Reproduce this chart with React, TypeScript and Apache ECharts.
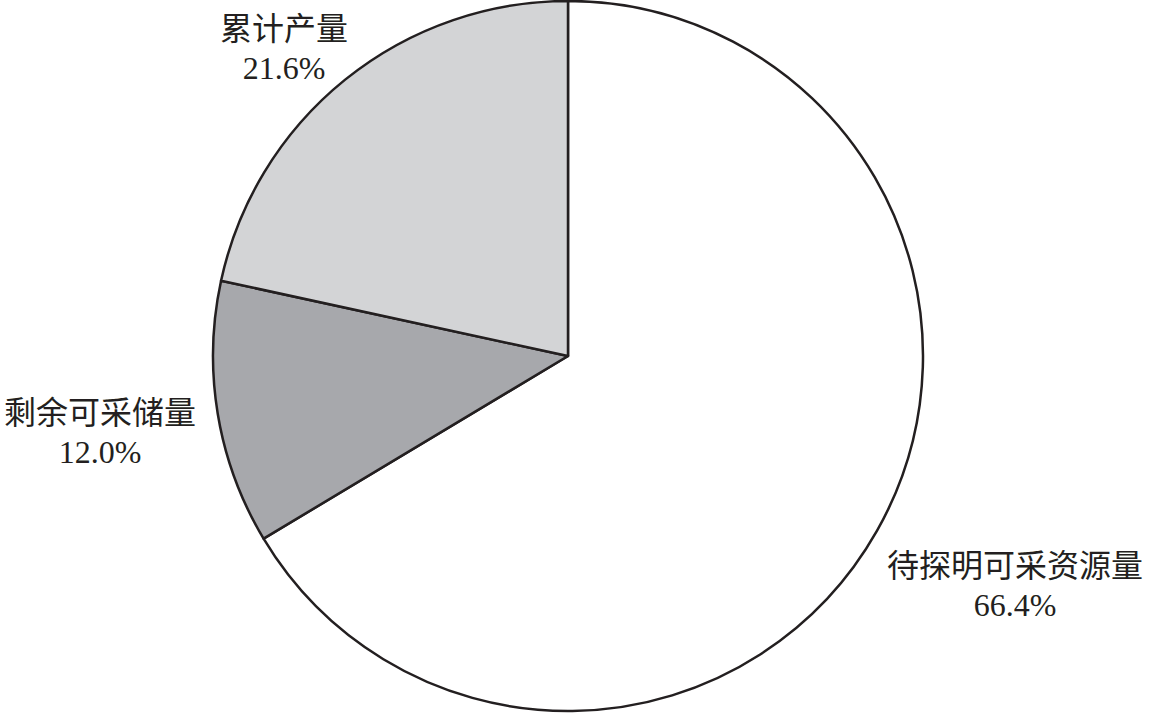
import React, { useEffect, useRef } from "react";
import * as echarts from "echarts";

const categories = ["待探明可采资源量", "剩余可采储量", "累计产量"];
const values = [66.4, 12.0, 21.6];
const colors = ["#ffffff", "#a7a8ac", "#d3d4d6"];
const labelCenters: [number, number][] = [
  [1015, 584],
  [100, 431],
  [284, 47],
];

export default function App() {
  const ref = useRef<HTMLDivElement>(null);
  useEffect(() => {
    document.body.style.margin = "0";
    const chart = echarts.init(ref.current!, undefined, { renderer: "svg" });
    chart.setOption({
      animation: false,
      backgroundColor: "#ffffff",
      series: [
        {
          type: "pie",
          center: [568, 356],
          radius: [0, 355],
          startAngle: 90,
          clockwise: true,
          data: categories.map((c, i) => ({
            name: c,
            value: values[i],
            itemStyle: { color: colors[i] },
          })),
          itemStyle: { borderColor: "#231f20", borderWidth: 2.5 },
          label: {
            show: true,
            position: "outside",
            overflow: "none",
            width: 400,
            formatter: (p: any) => `{a|${p.name}}\n{b|${p.value.toFixed(1)}%}`,
            align: "center",
            rich: {
              a: {
                fontFamily: "Noto Sans CJK SC",
                fontSize: 32,
                color: "#231f20",
                lineHeight: 42,
                align: "center",
              },
              b: {
                fontFamily: "Liberation Serif",
                fontSize: 32,
                color: "#231f20",
                lineHeight: 42,
                align: "center",
              },
            },
          },
          labelLine: { show: false },
          labelLayout: (params: any) => {
            const c = labelCenters[params.dataIndex];
            return {
              x: c[0],
              y: c[1],
              align: "center",
              verticalAlign: "middle",
            };
          },
          emphasis: { disabled: true },
        },
      ],
    });
    return () => chart.dispose();
  }, []);
  return (
    <div
      ref={ref}
      style={{ position: "absolute", left: 0, top: 0, width: 1151, height: 716 }}
    />
  );
}
